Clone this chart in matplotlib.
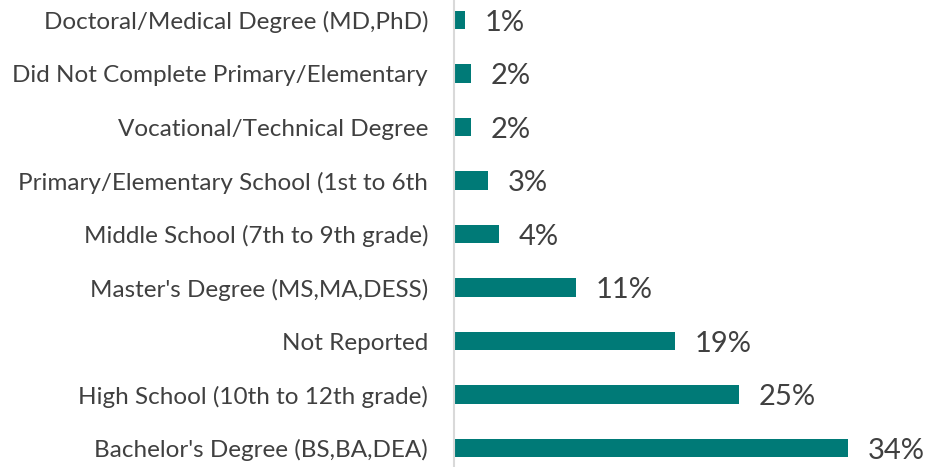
import matplotlib
matplotlib.use("Agg")
import matplotlib.pyplot as plt

categories = [
    "Doctoral/Medical Degree (MD,PhD)",
    "Did Not Complete Primary/Elementary",
    "Vocational/Technical Degree",
    "Primary/Elementary School (1st to 6th",
    "Middle School (7th to 9th grade)",
    "Master's Degree (MS,MA,DESS)",
    "Not Reported",
    "High School (10th to 12th grade)",
    "Bachelor's Degree (BS,BA,DEA)",
]
values = [0.95, 1.5, 1.5, 3.0, 3.95, 10.6, 19.2, 24.8, 34.3]
value_labels = ["1%", "2%", "2%", "3%", "4%", "11%", "19%", "25%", "34%"]

BAR = "#007A77"
TXT = "#404040"

W, H = 929, 467
fig = plt.figure(figsize=(W / 100, H / 100), dpi=100)
# row centers at y=20 (top) and 448 (bottom) px -> spacing 53.5
sp = 53.5
top_px = 20 - sp / 2
bot_px = 448 + sp / 2
left_px = 454
right_px = left_px + 11.5 * 40
ax = fig.add_axes([left_px / W, (H - bot_px) / H, (right_px - left_px) / W, (bot_px - top_px) / H])

y = list(range(len(categories)))
ax.barh(y, values, height=0.35, color=BAR)
ax.set_ylim(len(categories) - 0.5, -0.5)
ax.set_xlim(0, 40)
ax.set_yticks(y)
ax.set_yticklabels(categories, fontsize=17.5, color=TXT, family="Lato")
ax.tick_params(axis="y", length=0, pad=18.7)
ax.set_xticks([])
for s in ["top", "right", "bottom"]:
    ax.spines[s].set_visible(False)
ax.spines["left"].set_color("#D9D9D9")
ax.spines["left"].set_linewidth(1.5)

for yi, v, lab in zip(y, values, value_labels):
    ax.annotate(lab, (v, yi), xytext=(14, -2), textcoords="offset points",
                va="center", ha="left", fontsize=21, color=TXT, family="Lato")

fig.savefig("out.png", dpi=100)
